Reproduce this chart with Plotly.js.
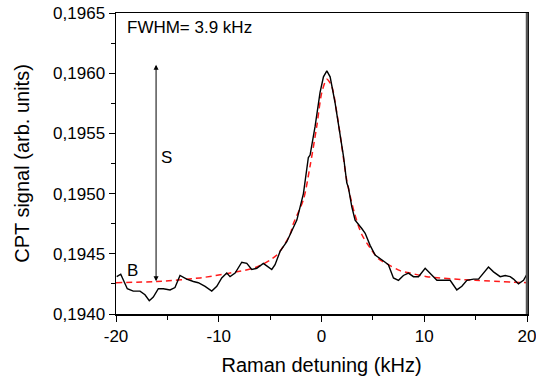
<!DOCTYPE html>
<html>
<head>
<meta charset="utf-8">
<script src="https://cdn.plot.ly/plotly-3.0.1.min.js"></script>
<style>html,body{margin:0;padding:0;background:#fff;}#chart{width:536px;height:376px;}</style>
</head>
<body>
<div id="chart"></div>
<script>
// Measured CPT signal (black)
const detuning = [-19.93, -19.54, -18.90, -18.32, -17.66, -17.18, -16.76, -16.37, -15.88, -15.39,
  -14.74, -14.26, -13.77, -13.12, -12.47, -11.99, -11.33, -10.68, -10.19, -9.71,
  -9.22, -8.90, -8.41, -7.76, -7.27, -6.79, -6.30, -5.66, -5.33, -4.84,
  -4.52, -4.03, -3.38, -3.06, -2.40, -1.76, -1.28, -1.11, -0.62, -0.14,
  0.19, 0.52, 0.84, 1.33, 1.82, 2.14, 2.46, 2.62, 2.95, 3.27,
  3.92, 4.25, 4.73, 5.22, 6.03, 6.51, 7.00, 7.49, 7.97, 8.46,
  8.95, 9.44, 10.09, 10.57, 11.23, 11.87, 12.52, 13.17, 13.66, 14.15,
  14.79, 15.28, 15.76, 16.25, 16.74, 17.39, 17.88, 18.36, 18.69, 19.17,
  19.66, 19.99];
const signal = [0.19431, 0.19433, 0.19421, 0.19419, 0.19419, 0.19416, 0.19411, 0.19414, 0.19421, 0.19421,
  0.19420, 0.19422, 0.19432, 0.19429, 0.19427, 0.19426, 0.19423, 0.19419, 0.19423, 0.19430,
  0.19434, 0.19431, 0.19434, 0.19443, 0.19442, 0.19437, 0.19438, 0.19442, 0.19440, 0.19437,
  0.19441, 0.19452, 0.19460, 0.19466, 0.19478, 0.19500, 0.19530, 0.19532, 0.19556, 0.19584,
  0.19597, 0.19602, 0.19597, 0.19575, 0.19548, 0.19531, 0.19509, 0.19505, 0.19489, 0.19478,
  0.19471, 0.19467, 0.19457, 0.19449, 0.19444, 0.19441, 0.19430, 0.19428, 0.19432, 0.19434,
  0.19431, 0.19431, 0.19438, 0.19434, 0.19428, 0.19428, 0.19428, 0.19420, 0.19423, 0.19428,
  0.19429, 0.19429, 0.19434, 0.19439, 0.19435, 0.19431, 0.19432, 0.19431, 0.19429, 0.19425,
  0.19428, 0.19433];

// Fit curve (red dashed)
const fitX = [-20, -16.04, -11.82, -8.9, -6.3, -4.35, -3.06, -2.74, -1.76, -1.11, -0.46, 0.03, 0.52, 1.0, 1.49, 1.98, 2.46, 3.2, 3.92, 4.73, 5.54, 6.51, 7.65, 8.63, 10.25, 14.96, 20];
const fitY = [0.19426, 0.19427, 0.19430, 0.19434, 0.19439, 0.19449, 0.19466, 0.19475, 0.19495, 0.19523, 0.19556, 0.19584, 0.19595, 0.19589, 0.19567, 0.19539, 0.19511, 0.19484, 0.19466, 0.19455, 0.19446, 0.19441, 0.19436, 0.19434, 0.19431, 0.19428, 0.19426];

const xTicks = [-20, -10, 0, 10, 20];
const xTickText = ["-20", "-10", "0", "10", "20"];
const yTicks = [0.1940, 0.1945, 0.1950, 0.1955, 0.1960, 0.1965];
const yTickText = ["0,1940", "0,1945", "0,1950", "0,1955", "0,1960", "0,1965"];

const font = "Liberation Sans, Arial, sans-serif";

const traces = [
  {x: fitX, y: fitY, type: 'scatter', mode: 'lines',
   line: {color: '#ff1a1a', width: 1.5, dash: '6px,4px', shape: 'spline', smoothing: 0.8},
   hoverinfo: 'skip', showlegend: false},
  {x: detuning, y: signal, type: 'scatter', mode: 'lines',
   line: {color: '#000', width: 1.4}, showlegend: false}
];

const layout = {
  width: 536, height: 376,
  margin: {l: 116, r: 9, t: 13, b: 62},
  paper_bgcolor: '#fff', plot_bgcolor: '#fff',
  font: {family: font, size: 17, color: '#000'},
  xaxis: {
    range: [-20, 20], tickvals: xTicks, ticktext: xTickText, ticks: 'outside', ticklen: 6, tickwidth: 1, tickcolor: '#000',
    ticklabeloverflow: 'allow',
    minor: {dtick: 5, tick0: 0, ticks: 'outside', ticklen: 4, tickcolor: '#000', showgrid: false},
    showgrid: false, zeroline: false, showline: true, linecolor: '#000', linewidth: 1.5, mirror: true,
    tickfont: {size: 17}, title: {text: 'Raman detuning (kHz)', font: {size: 20}, standoff: 14}
  },
  yaxis: {
    range: [0.1940, 0.1965], tickvals: yTicks, ticktext: yTickText, ticks: 'outside', ticklen: 6, tickwidth: 1, tickcolor: '#000',
    minor: {dtick: 0.00025, tick0: 0.194, ticks: 'outside', ticklen: 4, tickcolor: '#000', showgrid: false},
    showgrid: false, zeroline: false, showline: true, linecolor: '#000', linewidth: 1.5, mirror: true,
    tickfont: {size: 17}, title: {text: 'CPT signal (arb. units)', font: {size: 20}, standoff: 18}
  },
  shapes: [
    {type: 'line', xref: 'paper', yref: 'paper', x0: 1, x1: 1, y0: 0, y1: 1, line: {color: '#555', width: 2.5}}
  ],
  annotations: [
    {x: -16.1, y: 0.19607, ax: -16.1, ay: 0.19426, xref: 'x', yref: 'y', axref: 'x', ayref: 'y',
     text: '', showarrow: true, arrowhead: 2, startarrowhead: 2, arrowside: 'end+start', arrowsize: 1, arrowwidth: 1, arrowcolor: '#000'},
    {x: -19.1, y: 0.19638, xref: 'x', yref: 'y', text: 'FWHM= 3.9 kHz', showarrow: false, xanchor: 'left', yanchor: 'middle', font: {size: 17}},
    {x: -15.05, y: 0.19530, xref: 'x', yref: 'y', text: 'S', showarrow: false, xanchor: 'center', yanchor: 'middle', font: {size: 17}},
    {x: -18.4, y: 0.19436, xref: 'x', yref: 'y', text: 'B', showarrow: false, xanchor: 'center', yanchor: 'middle', font: {size: 17}}
  ]
};

Plotly.newPlot('chart', traces, layout, {displayModeBar: false, staticPlot: true});
</script>
</body>
</html>
